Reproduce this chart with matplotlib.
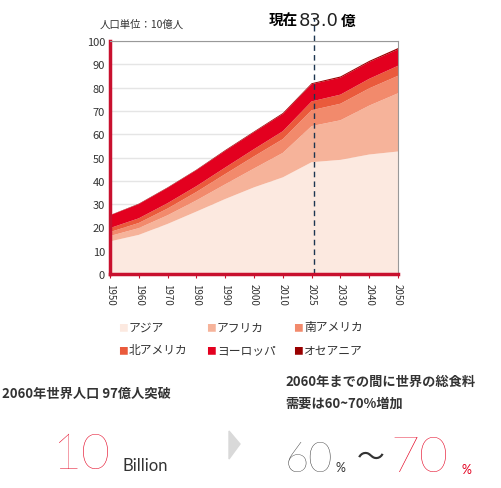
import matplotlib.pyplot as plt
import numpy as np
from matplotlib.patches import Polygon

plt.rcParams['font.family'] = ['Noto Sans CJK JP', 'DejaVu Sans']

years = ['1950', '1960', '1970', '1980', '1990', '2000', '2010', '2025', '2030', '2040', '2050']
regions = ['アジア', 'アフリカ', '南アメリカ', '北アメリカ', 'ヨーロッパ', 'オセアニア']
asia = [14, 16.8, 21.5, 26.8, 32.2, 37.2, 41.5, 48, 49, 51.3, 52.6]
africa = [2.3, 2.9, 3.7, 4.8, 6.3, 8.1, 10.5, 15.5, 17, 21, 25]
samerica = [1.7, 2.2, 2.9, 3.6, 4.4, 5.2, 5.9, 6.8, 7.1, 7.4, 7.5]
namerica = [1.7, 2.0, 2.3, 2.5, 2.8, 3.1, 3.4, 3.8, 3.9, 4.1, 4.3]
europe = [5.5, 6.1, 6.6, 6.9, 7.2, 7.3, 7.4, 7.4, 7.3, 7.2, 7.0]
oceania = [0.1, 0.2, 0.2, 0.2, 0.3, 0.3, 0.4, 0.4, 0.5, 0.5, 0.6]
colors = ['#fce9e0', '#f6b39a', '#f28a6c', '#ea5a3c', '#e3001f', '#990000']
now_label = '83.0'

fig = plt.figure(figsize=(5.02, 4.89), dpi=100)
ax = fig.add_axes([0.219, 0.4376, 0.574, 0.4764])
x = np.arange(len(years))
ax.stackplot(x, asia, africa, samerica, namerica, europe, oceania, colors=colors)
ax.set_xlim(0, len(years) - 1)
ax.set_ylim(0, 100)
ax.set_yticks(range(0, 101, 10))
ax.set_xticks(x)
ax.set_xticklabels(years, rotation=270, fontsize=7, color='#333333')
ax.tick_params(axis='y', labelsize=8, length=0, colors='#333333')
ax.tick_params(axis='x', length=3, color='#c8102e')
ax.grid(axis='y', color='#e5e5e5', lw=1)
ax.set_axisbelow(True)
for s in ['left', 'bottom']:
    ax.spines[s].set_color('#c8102e')
    ax.spines[s].set_linewidth(2.5)
for s in ['top', 'right']:
    ax.spines[s].set_color('#999999')
    ax.spines[s].set_linewidth(0.8)
ax.axvline(7.07, color='#1c3550', ls=(0, (4, 3)), lw=1, ymax=1.1, clip_on=False)

fig.text(100 / 502, 1 - 25 / 489, '人口単位：10億人', fontsize=7.5, color='#333333', va='center')
fig.text(298 / 502, 1 - 21 / 489, '現在', fontsize=10.5, fontweight='bold', va='center', ha='right')
fig.text(299 / 502, 1 - 21 / 489, now_label, fontsize=13, va='center', color='#222222', family='DejaVu Sans')
fig.text(355 / 502, 1 - 21 / 489, '億', fontsize=10.5, fontweight='bold', va='center', ha='right')

# legend
lx = [118, 206, 293]
ly = [328, 351]
for i, (name, c) in enumerate(zip(regions, colors)):
    px = lx[i % 3] / 502
    py = 1 - ly[i // 3] / 489
    fig.text(px, py, '■', color=c, fontsize=7, va='center')
    fig.text(px + 11 / 502, py, name, fontsize=8.5, va='center', color='#333333')

fig.text(2 / 502, 1 - 394 / 489, '2060年世界人口 97億人突破', fontsize=9.5, fontweight='bold', va='center', color='#333333')
fig.text(285 / 502, 1 - 382 / 489, '2060年までの間に世界の総食料', fontsize=9.5, fontweight='bold', va='center', color='#333333')
fig.text(285 / 502, 1 - 404 / 489, '需要は60~70%増加', fontsize=9.5, fontweight='bold', va='center', color='#333333')

big = dict(family='Lato', fontweight='light', va='baseline')
fig.text(52 / 502, 1 - 469 / 489, '10', fontsize=36, color='#e3001f', **big)
fig.text(123 / 502, 1 - 471 / 489, 'Billion', fontsize=12, color='#333333', va='baseline', family='Lato')
fig.patches.append(Polygon([[229 / 502, 1 - 432 / 489], [240 / 502, 1 - 445 / 489], [229 / 502, 1 - 460 / 489]],
                           closed=True, color='#d9d9d9', transform=fig.transFigure, figure=fig))
fig.text(285 / 502, 1 - 472 / 489, '60', fontsize=30, color='#333333', **big)
fig.text(336 / 502, 1 - 472 / 489, '%', fontsize=9, color='#333333', va='baseline', family='Lato')
fig.text(357 / 502, 1 - 466 / 489, '～', fontsize=20, color='#333333', va='baseline')
fig.text(390 / 502, 1 - 472 / 489, '70', fontsize=36, color='#e3001f', **big)
fig.text(462 / 502, 1 - 474 / 489, '%', fontsize=9, color='#e3001f', va='baseline', family='Lato')

fig.savefig('out.png', dpi=100)
